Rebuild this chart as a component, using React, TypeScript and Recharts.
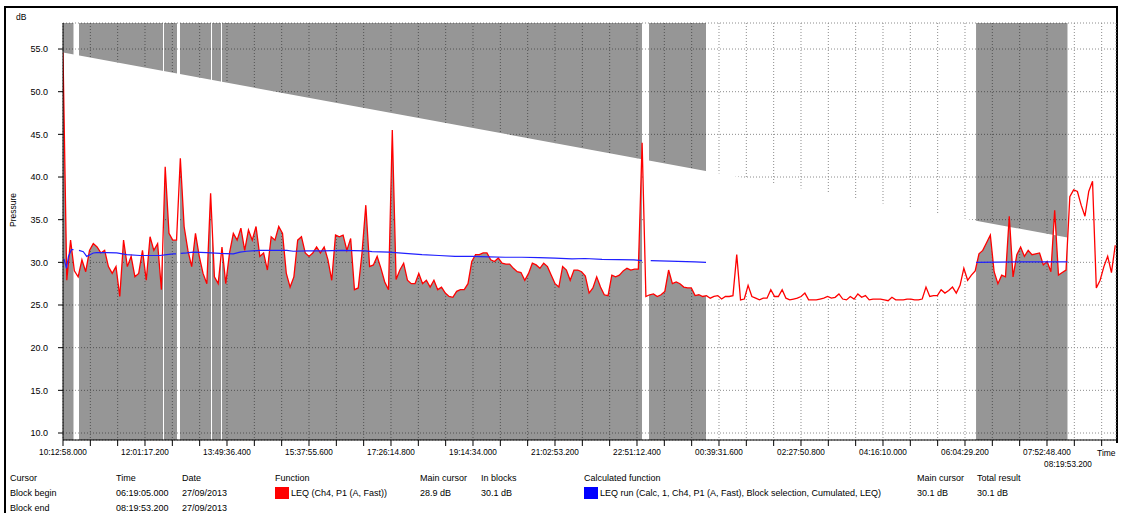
import { CartesianGrid, Line, LineChart, ReferenceArea, XAxis, YAxis } from "recharts";

// time axis: seconds elapsed since the first sample
const START_CLOCK = 10 * 3600 + 12 * 60 + 58; // 10:12:58.000
const SAMPLE_STEP = 300; // LEQ sample spacing, s
const TICK_STEP = 2166.4; // one grid column, s
const X_END = 83460;

const Y_MIN = 9.18;
const Y_MAX = 58.05;
const yTicks = [10, 15, 20, 25, 30, 35, 40, 45, 50, 55];

// LEQ (Ch4, P1 (A, Fast)), dB, one value per SAMPLE_STEP
const leq = [
  54.6, 27.9, 32.6, 29.0, 28.3, 30.3, 28.9, 31.4, 32.2, 31.8,
  31.1, 31.4, 29.5, 28.7, 29.5, 26.0, 32.6, 29.5, 30.7, 28.3,
  28.7, 31.4, 27.9, 33.0, 31.4, 32.2, 26.8, 41.2, 33.4, 32.6,
  32.6, 42.2, 34.2, 31.4, 29.5, 33.4, 30.7, 28.7, 27.5, 38.1,
  28.3, 27.5, 31.8, 27.5, 31.1, 33.4, 32.6, 34.0, 31.4, 33.8,
  32.6, 34.2, 30.7, 31.1, 29.1, 33.0, 32.6, 34.2, 33.4, 28.7,
  27.1, 28.3, 32.6, 33.0, 31.1, 30.7, 31.1, 31.8, 31.1, 31.8,
  30.3, 27.9, 33.2, 33.0, 33.2, 31.4, 32.8, 26.8, 27.0, 31.1,
  36.7, 29.5, 29.7, 30.7, 29.3, 27.7, 26.8, 45.5, 28.0, 29.1,
  29.9, 27.9, 27.5, 27.5, 28.7, 27.5, 27.9, 27.1, 27.9, 26.8,
  27.1, 26.4, 26.0, 25.9, 26.6, 26.8, 26.8, 27.5, 30.1, 30.9,
  30.9, 31.1, 31.1, 30.3, 30.1, 30.5, 29.9, 29.8, 29.8, 29.3,
  28.9, 28.8, 27.9, 28.7, 29.9, 29.7, 29.3, 29.9, 29.5, 28.5,
  27.5, 27.1, 29.5, 29.1, 27.9, 29.1, 29.1, 28.9, 28.4, 26.4,
  27.0, 28.3, 27.1, 26.2, 26.1, 28.5, 28.3, 28.5, 29.0, 29.3,
  29.1, 29.2, 29.2, 44.0, 26.0, 26.2, 26.3, 26.0, 26.2, 26.6,
  29.1, 27.5, 27.7, 27.5, 27.1, 27.0, 27.0, 26.1, 26.2, 26.0,
  26.1, 25.8, 26.0, 26.1, 25.7, 26.0, 26.0, 26.1, 30.9, 25.6,
  25.7, 27.3, 26.0, 25.8, 25.6, 25.8, 25.8, 26.8, 26.0, 26.0,
  26.8, 25.8, 25.6, 25.7, 25.8, 26.0, 26.4, 25.6, 25.6, 25.6,
  25.7, 25.8, 26.0, 25.8, 25.9, 26.3, 25.7, 25.6, 26.0, 25.7,
  26.3, 25.9, 26.1, 25.6, 25.7, 25.7, 25.7, 25.6, 25.5, 25.9,
  25.6, 25.6, 25.6, 25.7, 25.7, 25.6, 25.6, 25.7, 27.1, 26.0,
  26.1, 26.1, 26.8, 26.4, 26.7, 27.1, 26.4, 27.3, 29.3, 27.9,
  28.5, 29.0, 31.0, 31.4, 32.3, 33.2, 28.9, 27.5, 28.5, 28.3,
  35.4, 28.3, 30.9, 31.8, 30.7, 31.4, 30.9, 31.0, 31.1, 29.7,
  30.1, 28.9, 36.1, 28.5, 28.8, 29.1, 37.7, 38.5, 38.3, 36.7,
  35.4, 38.3, 39.5, 27.0, 27.9, 29.5, 30.7, 28.8, 32.0,
];

// LEQ run (cumulative over the block selection); null breaks the trace between blocks
const leqRunTimes = [
  79, 277, 436, 674, 832, 1030, 1268, 1609, 1878, 2140,
  2402, 2671, 3464, 4256, 5049, 6103, 7688, 8219, 8742, 8956,
  9154, 9329, 9804, 10327, 11390, 12444, 13498, 14029, 14560, 15614,
  17730, 18253, 19316, 20632, 22114, 23937, 24491, 25839, 27107, 28454,
  29802, 31070, 32417, 33765, 35033, 36380, 37728, 38996, 40343, 41374,
  42721, 45258, 45892, 46170, 46582, 48032, 50092, 50964, 58415, 72367,
  75852, 79615,
];
const leqRunValues = [
  30.4, 29.3, 30.7, 31.5, 31.5, null, 31.4, 31.25, 30.7, 30.9,
  31.1, 31.15, 31.15, 31.1, 30.9, 30.8, 30.8, 30.9, 31.0, 31.0,
  null, 31.05, 31.1, 31.2, 31.15, 31.05, 31.0, 31.2, 31.3, 31.4,
  31.4, 31.3, 31.35, 31.35, 31.4, 31.35, 31.25, 31.2, 31.05, 30.9,
  30.8, 30.7, 30.7, 30.65, 30.6, 30.6, 30.55, 30.5, 30.4, 30.45,
  30.35, 30.3, 30.2, null, 30.2, 30.15, 30.05, 30.0, null, 30.0,
  30.05, 30.05,
];

// selected blocks [from, to], s
const blocks: [number, number][] = [
  [0, 832],
  [1268, 7926],
  [8005, 9036],
  [9273, 11730],
  [11810, 12523],
  [12602, 45892],
  [46447, 50964],
  [72367, 79615.2],
];
const BLOCK_END = 79615.2; // 08:19:53.200
const TRACE_CLOSE = 32.9; // level where the filled trace is closed at block end

const cursorRows = [
  ["Block begin", "06:19:05.000", "27/09/2013"],
  ["Block end", "08:19:53.200", "27/09/2013"],
];

const leqData = leq.map((v, i) => ({ t: i * SAMPLE_STEP, v }));
const traceData = [...leqData.filter((d) => d.t <= BLOCK_END), { t: BLOCK_END, v: TRACE_CLOSE }];
const runData = leqRunTimes.map((t, i) => ({ t, v: leqRunValues[i] }));
const xTicks = Array.from({ length: Math.floor(X_END / TICK_STEP) + 1 }, (_, k) => k * TICK_STEP);

const pad = (n: number, w = 2) => String(n).padStart(w, "0");
function clock(sec: number) {
  const ms = Math.round((START_CLOCK + sec) * 1000) % 86400000;
  return `${pad(Math.floor(ms / 3600000))}:${pad(Math.floor(ms / 60000) % 60)}:${pad(
    Math.floor(ms / 1000) % 60
  )}.${pad(ms % 1000, 3)}`;
}

const FONT = '"Liberation Sans", Arial, sans-serif';

const css = `
.leq-fill .recharts-line-curve { fill: #ffffff; }
`;

function T({ x, y, children, size = 9 }: { x: number; y: number; children: React.ReactNode; size?: number }) {
  return (
    <div
      style={{
        position: "absolute",
        left: x,
        top: y - 6,
        fontSize: size,
        lineHeight: "12px",
        whiteSpace: "nowrap",
      }}
    >
      {children}
    </div>
  );
}

function Swatch({ x, color }: { x: number; color: string }) {
  return <div style={{ position: "absolute", left: x, top: 487, width: 14, height: 12, background: color }} />;
}

export default function App() {
  return (
    <div
      style={{
        position: "absolute",
        left: 0,
        top: 0,
        width: 1127,
        height: 513,
        background: "#fff",
        fontFamily: FONT,
        color: "#000",
        overflow: "hidden",
      }}
    >
      <style>{css}</style>
      {/* frame */}
      <div style={{ position: "absolute", left: 4, top: 6, width: 2, height: 507, background: "#000" }} />
      <div style={{ position: "absolute", left: 4, top: 6, width: 1114, height: 2, background: "#000" }} />
      <div style={{ position: "absolute", left: 1116, top: 6, width: 2, height: 437, background: "#000" }} />

      <LineChart
        width={1127}
        height={513}
        margin={{ top: 23, right: 11, bottom: 43, left: 23 }}
        style={{ position: "absolute", left: 0, top: 0 }}
      >
        <CartesianGrid stroke="#8c8c8c" strokeDasharray="1 2" />
        {blocks.map(([a, b]) => (
          <ReferenceArea
            key={a}
            x1={a}
            x2={b}
            fill="#000"
            fillOpacity={0.41}
            stroke="none"
            ifOverflow="hidden"
            zIndex={0}
          />
        ))}
        <XAxis
          type="number"
          dataKey="t"
          domain={[0, X_END]}
          ticks={xTicks}
          interval={0}
          allowDataOverflow
          height={30}
          stroke="#000"
          tickSize={6}
          tickMargin={3}
          tick={{ fill: "#000", fontSize: 8.2, fontFamily: FONT }}
          tickFormatter={(v: number) => (Math.round(v / TICK_STEP) % 3 === 0 ? clock(v) : "")}
        />
        <YAxis
          type="number"
          domain={[Y_MIN, Y_MAX]}
          ticks={yTicks}
          allowDataOverflow
          width={40}
          stroke="#000"
          tickSize={5}
          tickMargin={10}
          tick={{ fill: "#000", fontSize: 9, fontFamily: FONT }}
          tickFormatter={(v: number) => v.toFixed(1)}
        />
        <Line
          className="leq-fill"
          data={traceData}
          dataKey="v"
          type="linearClosed"
          stroke="none"
          dot={false}
          activeDot={false}
          isAnimationActive={false}
          zIndex={390}
        />
        <Line
          data={leqData}
          dataKey="v"
          type="linear"
          stroke="#ff0000"
          strokeWidth={1.3}
          dot={false}
          activeDot={false}
          isAnimationActive={false}
          zIndex={400}
        />
        <Line
          data={runData}
          dataKey="v"
          type="linear"
          stroke="#2020ff"
          strokeWidth={1.2}
          dot={false}
          activeDot={false}
          connectNulls={false}
          isAnimationActive={false}
          zIndex={410}
        />
      </LineChart>

      <T x={16} y={17} size={8.5}>dB</T>
      <div
        style={{
          position: "absolute",
          left: 13,
          top: 210,
          fontSize: 8.5,
          transform: "translate(-50%, -50%) rotate(-90deg)",
          whiteSpace: "nowrap",
        }}
      >
        Pressure
      </div>
      <T x={1097} y={453} size={8.5}>Time</T>
      <div style={{ position: "absolute", left: 1068, top: 460, fontSize: 8.2, transform: "translateX(-50%)" }}>
        {clock(BLOCK_END)}
      </div>

      {/* cursor / function table */}
      <T x={10} y={478}>Cursor</T>
      <T x={116} y={478}>Time</T>
      <T x={182} y={478}>Date</T>
      <T x={275} y={478}>Function</T>
      <T x={420} y={478}>Main cursor</T>
      <T x={481} y={478}>In blocks</T>
      <T x={584} y={478}>Calculated function</T>
      <T x={917} y={478}>Main cursor</T>
      <T x={977} y={478}>Total result</T>
      {cursorRows.map((r, i) => (
        <div key={r[0]}>
          <T x={10} y={493 + i * 15}>{r[0]}</T>
          <T x={116} y={493 + i * 15}>{r[1]}</T>
          <T x={182} y={493 + i * 15}>{r[2]}</T>
        </div>
      ))}
      <Swatch x={275} color="#ff0000" />
      <T x={291} y={493}>LEQ (Ch4, P1 (A, Fast))</T>
      <T x={420} y={493}>28.9 dB</T>
      <T x={481} y={493}>30.1 dB</T>
      <Swatch x={584} color="#0000ff" />
      <T x={600} y={493}>LEQ run (Calc, 1, Ch4, P1 (A, Fast), Block selection, Cumulated, LEQ)</T>
      <T x={917} y={493}>30.1 dB</T>
      <T x={977} y={493}>30.1 dB</T>
    </div>
  );
}
